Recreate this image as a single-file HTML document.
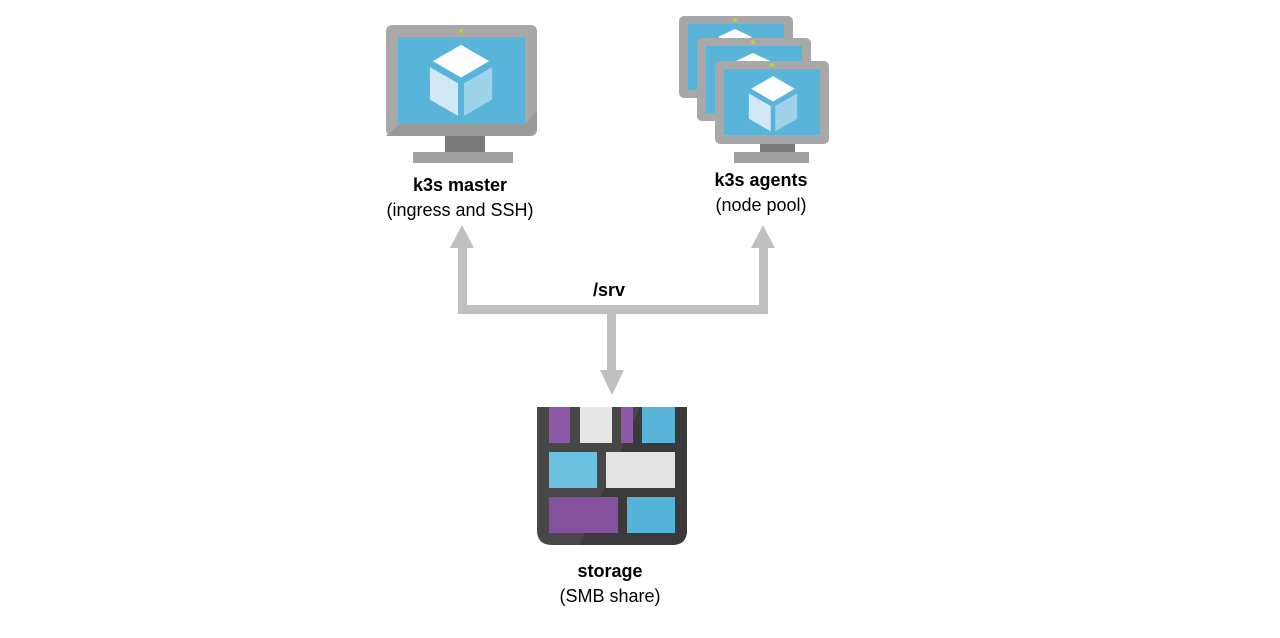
<!DOCTYPE html>
<html><head><meta charset="utf-8"><style>
html,body{margin:0;padding:0;background:#fff;}
svg{display:block;}
text{font-family:"Liberation Sans",Arial,sans-serif;font-size:18px;fill:#000;text-anchor:middle;}
.b{font-weight:bold;}
</style></head><body>
<svg width="1280" height="638" viewBox="0 0 1280 638" xmlns="http://www.w3.org/2000/svg">
<defs>
<g id="cube">
<polygon points="0,-19 19,-8 0,3 -19,-8" fill="#fff"/>
<polygon points="-21,-4 -2,7 -2,29 -21,18" fill="#d2e9f5"/>
<polygon points="21,-4 2,7 2,29 21,18" fill="#9fd3ea"/>
</g>
</defs>
<!-- master monitor -->
<rect x="445" y="133" width="40" height="20" fill="#7a7a7a"/>
<rect x="413" y="152" width="100" height="11" fill="#a0a0a0"/>
<rect x="386" y="25" width="151" height="111" rx="6" fill="#a8a8a8"/>
<polygon points="386,136 400,124 525,124 537,110 537,130 531,136" fill="#9a9a9a"/>
<rect x="398" y="37" width="127" height="87" fill="#59b4d9"/>
<circle cx="461" cy="31" r="2" fill="#b8d432"/>
<g transform="translate(461,73) scale(1.48)"><use href="#cube"/></g>
<!-- agent monitors -->
<g>
<rect x="679" y="16" width="114" height="82" rx="5" fill="#a8a8a8"/>
<rect x="688" y="24" width="96" height="66" fill="#59b4d9"/>
<circle cx="735" cy="20" r="2" fill="#b8d432"/>
<polygon points="735,29 752,37 735,45 718,37" fill="#fff"/>
</g>
<g>
<rect x="697" y="38" width="114" height="83" rx="5" fill="#a8a8a8"/>
<rect x="706" y="46" width="96" height="67" fill="#59b4d9"/>
<circle cx="753" cy="42" r="2" fill="#b8d432"/>
<polygon points="753,53 770,61 753,69 736,61" fill="#fff"/>
</g>
<rect x="760" y="142" width="35" height="11" fill="#7a7a7a"/>
<rect x="734" y="152" width="75" height="11" fill="#a0a0a0"/>
<rect x="715" y="61" width="114" height="83" rx="5" fill="#a8a8a8"/>
<rect x="724" y="69" width="96" height="66" fill="#59b4d9"/>
<circle cx="772" cy="65" r="2" fill="#b8d432"/>
<g transform="translate(773,98) scale(1.15)"><use href="#cube"/></g>
<!-- labels -->
<text class="b" x="460" y="191">k3s master</text>
<text x="460" y="216">(ingress and SSH)</text>
<text class="b" x="761" y="186">k3s agents</text>
<text x="761" y="211">(node pool)</text>
<text class="b" x="609" y="296">/srv</text>
<!-- connectors -->
<g fill="#c0c0c0">
<rect x="458" y="305" width="309" height="9"/>
<rect x="458" y="246" width="9" height="68"/>
<rect x="759" y="246" width="9" height="68"/>
<rect x="607" y="305" width="9" height="67"/>
<polygon points="450,248 474,248 462,225"/>
<polygon points="751,248 775,248 763,225"/>
<polygon points="600,370 624,370 612,395"/>
</g>
<!-- storage -->
<path d="M537,407 H687 V530 Q687,545 672,545 H552 Q537,545 537,530 Z" fill="#474747"/>
<path d="M640,407 H687 V530 Q687,545 672,545 H580 Z" fill="#3a3a3a"/>
<rect x="549" y="407" width="21" height="36" fill="#8c5aa5"/>
<rect x="580" y="407" width="32" height="36" fill="#e6e6e6"/>
<rect x="621" y="407" width="12" height="36" fill="#8c5aa5"/>
<rect x="642" y="407" width="33" height="36" fill="#59b4d9"/>
<rect x="549" y="452" width="48" height="36" fill="#6cc0e0"/>
<rect x="606" y="452" width="69" height="36" fill="#e4e4e4"/>
<rect x="549" y="497" width="69" height="36" fill="#85509e"/>
<rect x="627" y="497" width="48" height="36" fill="#55b3da"/>
<text class="b" x="610" y="577">storage</text>
<text x="610" y="602">(SMB share)</text>
</svg>
</body></html>
